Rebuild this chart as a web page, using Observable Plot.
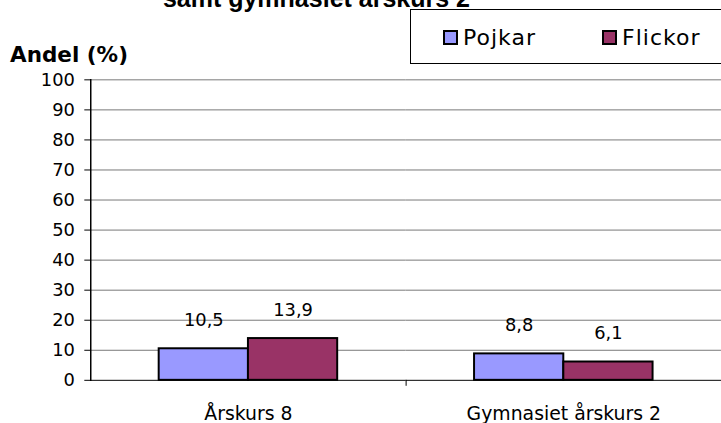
<!DOCTYPE html>
<html><head><meta charset="utf-8">
<script src="https://cdn.jsdelivr.net/npm/d3@7"></script>
<script src="https://cdn.jsdelivr.net/npm/@observablehq/plot@0.6"></script>
<style>
html,body{margin:0;padding:0;background:#fff;}
#wrap{position:relative;width:721px;height:423px;overflow:hidden;background:#fff;}
#wrap svg{position:absolute;left:0;top:0;}
</style></head><body>
<div id="wrap"></div>
<script>
const categories = ["Årskurs 8", "Gymnasiet årskurs 2"];
const series = ["Pojkar", "Flickor"];
const pojkar = [10.5, 8.8];
const flickor = [13.9, 6.1];
const yTicks = [0, 10, 20, 30, 40, 50, 60, 70, 80, 90, 100];
const colors = ["#9999FF", "#993366"];
const titleText = "samt gymnasiet årskurs 2";
const yLabel = "Andel (%)";

const data = categories.flatMap((c, i) => [
  {category: c, series: series[0], value: pojkar[i]},
  {category: c, series: series[1], value: flickor[i]}
]);
const fmt = v => String(v).replace(".", ",");
const font = "'DejaVu Sans', sans-serif";

const chart = Plot.plot({
  width: 727, height: 423,
  marginLeft: 91, marginRight: 0, marginTop: 80, marginBottom: 40,
  style: {fontFamily: font, color: "black", background: "transparent", overflow: "visible"},
  fx: {domain: categories, padding: 0},
  x: {domain: series, paddingInner: 0, paddingOuter: 0.75, axis: null},
  y: {domain: [0, 100]},
  color: {domain: series, range: colors},
  marks: [
    Plot.gridY(yTicks.filter(t => t > 0), {stroke: "#777", strokeOpacity: 1}),
    Plot.barY(data, {fx: "category", x: "series", y: "value", fill: "series", stroke: "black", strokeWidth: 2}),
    Plot.text(data, {fx: "category", x: "series", y: "value", text: d => fmt(d.value), dy: -29, fontSize: 18, fill: "black"}),
    Plot.ruleY([0], {stroke: "black"}),
    Plot.frame({anchor: "left", facetAnchor: "left", stroke: "black", strokeWidth: 1.5}),
    Plot.axisY({ticks: yTicks, tickSize: 6, tickPadding: 10, fontSize: 18, label: null, stroke: "black"}),
    Plot.axisFx({anchor: "bottom", tickSize: 0, tickPadding: 26, fontSize: 19, label: null}),
    Plot.axisFx({anchor: "bottom", tickSize: 6, tickFormat: () => "", dx: 159, label: null, stroke: "black"})
  ]
});
const wrap = document.getElementById("wrap");
wrap.appendChild(chart);

// overlay: title (cut off at the top, as in the reference), y label, legend
const ov = d3.select(wrap).append("svg")
  .attr("width", 721).attr("height", 423)
  .style("font-family", font).style("pointer-events", "none");
ov.append("text").attr("x", 470).attr("y", 7).attr("text-anchor", "end")
  .attr("font-family", "'Liberation Sans', Arial, sans-serif")
  .attr("font-weight", "bold").attr("font-size", 25).text(titleText);
ov.append("text").attr("x", 10).attr("y", 61.7)
  .attr("font-weight", "bold").attr("font-size", 21.5).text(yLabel);
ov.append("rect").attr("x", 410.5).attr("y", 9.5).attr("width", 330).attr("height", 54)
  .attr("fill", "white").attr("stroke", "black");
const legX = [443, 602];
series.forEach((s, i) => {
  ov.append("rect").attr("x", legX[i] + 1).attr("y", 31).attr("width", 13).attr("height", 13)
    .attr("fill", colors[i]).attr("stroke", "black").attr("stroke-width", 2);
  ov.append("text").attr("x", legX[i] + 20).attr("y", 45).attr("font-size", 22)
    .attr("letter-spacing", 1).text(s);
});
</script>
</body></html>
